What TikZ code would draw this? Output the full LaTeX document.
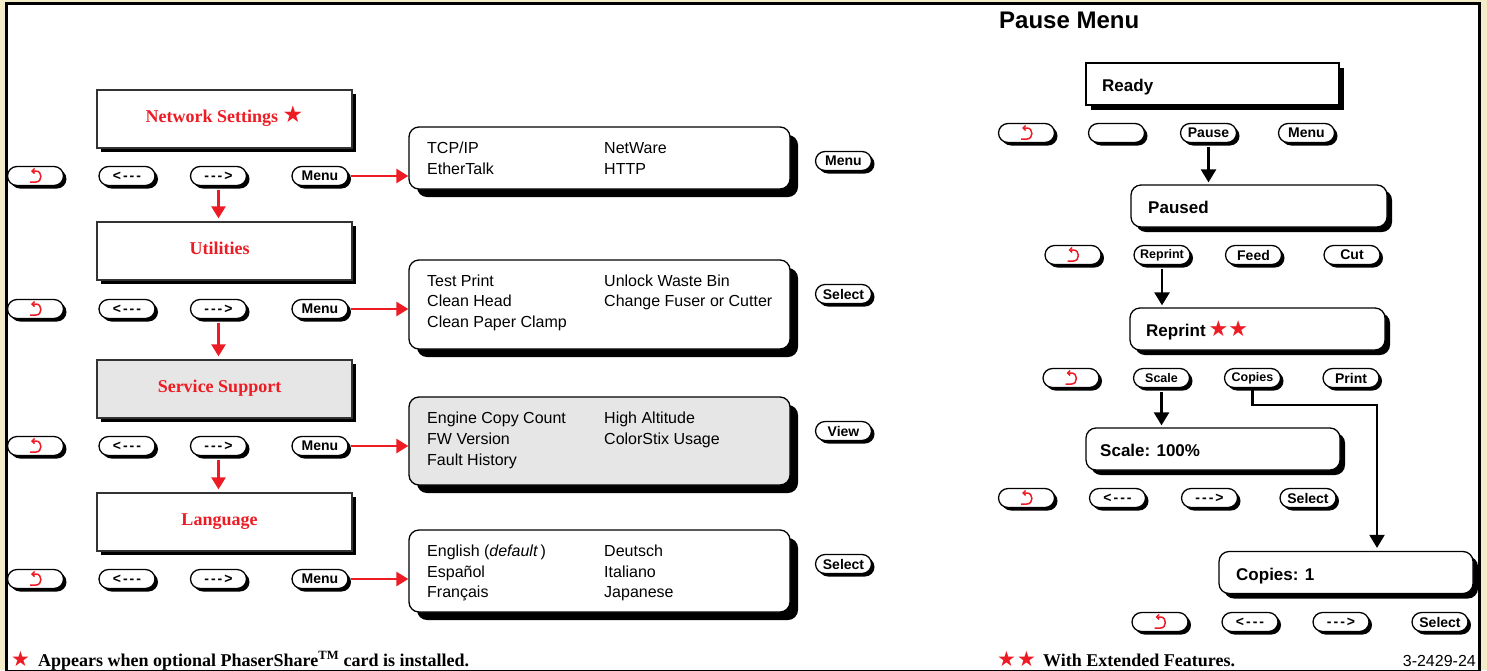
\documentclass[tikz,border=0pt]{standalone}
\usepackage{fontspec}
\setmainfont{Liberation Serif}
\setsansfont{Liberation Sans}
\newfontfamily\symf{DejaVu Sans}
\usetikzlibrary{shapes.misc,shadows,arrows.meta}
\definecolor{myred}{RGB}{237,28,36}
\definecolor{frameb}{RGB}{242,236,200}
\definecolor{boxgray}{RGB}{230,230,230}
\newcommand\redstar[1]{{\symf\color{myred}\fontsize{#1}{#1}\selectfont ★}}
\begin{document}
\begin{tikzpicture}[x=1pt,y=-1pt,
  btn/.style={rounded rectangle, draw=black, line width=1.3pt, fill=white,
    minimum width=56pt, minimum height=19pt, inner sep=0pt,
    font=\sffamily\bfseries\fontsize{14}{14}\selectfont,
    drop shadow={shadow xshift=3pt,shadow yshift=-3pt,opacity=1,fill=black}},
  smallbtn/.style={btn, font=\sffamily\bfseries\fontsize{12.5}{12.5}\selectfont},
  titlebox/.style={rectangle, draw=black!80, line width=1.3pt, fill=white,
    minimum width=255pt, minimum height=58pt, inner sep=0pt,
    text height=12pt, text depth=6pt,
    font=\rmfamily\bfseries\fontsize{18}{18}\selectfont, text=myred,
    drop shadow={shadow xshift=4pt,shadow yshift=-4pt,opacity=1,fill=black}},
  listbox/.style={rectangle, rounded corners=10pt, draw=black, line width=1.3pt, fill=white,
    minimum width=381pt, inner sep=0pt,
    drop shadow={shadow xshift=8pt,shadow yshift=-8pt,opacity=1,fill=black}},
  statbox/.style={rectangle, draw=black, line width=1.3pt, fill=white,
    minimum width=254pt, minimum height=42pt, inner sep=0pt,
    drop shadow={shadow xshift=5pt,shadow yshift=-5pt,opacity=1,fill=black}},
  rstatbox/.style={statbox, rounded corners=10pt},
  ltxt/.style={anchor=base west, inner sep=0pt, font=\sffamily\fontsize{16}{16}\selectfont},
  stxt/.style={anchor=base west, inner sep=0pt, font=\sffamily\bfseries\fontsize{17}{17}\selectfont},
  ftxt/.style={anchor=base west, inner sep=0pt, font=\rmfamily\bfseries\fontsize{18}{18}\selectfont},
  redarr/.style={draw=myred, line width=2.5pt, -{Triangle[length=12pt,width=14pt]}},
  blkarr/.style={draw=black, line width=2.5pt, -{Triangle[length=13pt,width=15pt]}},
  backsym/.pic={\draw[myred, line width=1.5pt, {Straight Barb[length=2.5pt,width=5pt]}-]
      (-4.5,-5) -- (0.5,-5) .. controls (7,-5) and (7,6) .. (0.5,6) -- (-5.5,6);}
]
\useasboundingbox (0,0) rectangle (1487,670);
\fill[frameb] (0,0) rectangle (1487,670);
\draw[line width=3pt, fill=white] (6.5,3.5) rectangle (1479,671.5);

% ---------------- left column ----------------
% row 1
\node[titlebox] (t1) at (224.5,119) {Network Settings \redstar{23}};
\node[btn] (b1a) at (35.5,176) {};
\pic at (b1a.center) {backsym};
\node[btn] (b1b) at (127,176) {<\kern2pt-\kern2pt-\kern2pt-};
\node[btn] (b1c) at (218.5,176) {-\kern2pt-\kern2pt-\kern2pt>};
\node[btn] (b1d) at (320,176) {Menu};
\node[listbox, minimum height=62pt] (l1) at (599.5,158) {};
\node[ltxt] (l1a) at (427,153) {TCP/IP};
\node[ltxt] (l1b) at (604,153) {NetWare};
\node[ltxt] (l1c) at (427,174) {EtherTalk};
\node[ltxt] (l1d) at (604,174) {HTTP};
\node[btn] (s1) at (843.5,161) {Menu};

% row 2
\node[titlebox] (t2) at (224.5,251) {Utilities\kern10pt};
\node[btn] (b2a) at (35.5,309) {};
\pic at (b2a.center) {backsym};
\node[btn] (b2b) at (127,309) {<\kern2pt-\kern2pt-\kern2pt-};
\node[btn] (b2c) at (218.5,309) {-\kern2pt-\kern2pt-\kern2pt>};
\node[btn] (b2d) at (320,309) {Menu};
\node[listbox, minimum height=89pt] (l2) at (599.5,304.5) {};
\node[ltxt] (l2a) at (427,286) {Test Print};
\node[ltxt] (l2b) at (604,286) {Unlock Waste Bin};
\node[ltxt] (l2c) at (427,306) {Clean Head};
\node[ltxt] (l2d) at (604,306) {Change Fuser or Cutter};
\node[ltxt] (l2e) at (427,327) {Clean Paper Clamp};
\node[btn] (s2) at (843.5,294) {Select};

% row 3
\node[titlebox, fill=boxgray] (t3) at (224.5,389) {Service Support\kern10pt};
\node[btn] (b3a) at (35.5,446) {};
\pic at (b3a.center) {backsym};
\node[btn] (b3b) at (127,446) {<\kern2pt-\kern2pt-\kern2pt-};
\node[btn] (b3c) at (218.5,446) {-\kern2pt-\kern2pt-\kern2pt>};
\node[btn] (b3d) at (320,446) {Menu};
\node[listbox, fill=boxgray, minimum height=88pt] (l3) at (599.5,441) {};
\node[ltxt] (l3a) at (427,423) {Engine Copy Count};
\node[ltxt] (l3b) at (604,423) {High Altitude};
\node[ltxt] (l3c) at (427,444) {FW Version};
\node[ltxt] (l3d) at (604,444) {ColorStix Usage};
\node[ltxt] (l3e) at (427,465) {Fault History};
\node[btn] (s3) at (843.5,431) {View};

% row 4
\node[titlebox] (t4) at (224.5,522) {Language\kern10pt};
\node[btn] (b4a) at (35.5,579) {};
\pic at (b4a.center) {backsym};
\node[btn] (b4b) at (127,579) {<\kern2pt-\kern2pt-\kern2pt-};
\node[btn] (b4c) at (218.5,579) {-\kern2pt-\kern2pt-\kern2pt>};
\node[btn] (b4d) at (320,579) {Menu};
\node[listbox, minimum height=82pt] (l4) at (599.5,571) {};
\node[ltxt] (l4a) at (427,556) {English (\textit{default}\,)};
\node[ltxt] (l4b) at (604,556) {Deutsch};
\node[ltxt] (l4c) at (427,577) {Español};
\node[ltxt] (l4d) at (604,577) {Italiano};
\node[ltxt] (l4e) at (427,597) {Français};
\node[ltxt] (l4f) at (604,597) {Japanese};
\node[btn] (s4) at (843.5,564) {Select};

% red arrows
\draw[redarr, shorten <=2pt] (b1d.east) -- (l1.west |- b1d.east);
\draw[redarr, shorten <=2pt] (b2d.east) -- (l2.west |- b2d.east);
\draw[redarr, shorten <=2pt] (b3d.east) -- (l3.west |- b3d.east);
\draw[redarr, shorten <=2pt] (b4d.east) -- (l4.west |- b4d.east);
\draw[redarr, shorten <=4pt, shorten >=3pt] (b1c.south) -- (t2.north -| b1c.south);
\draw[redarr, shorten <=4pt, shorten >=3pt] (b2c.south) -- (t3.north -| b2c.south);
\draw[redarr, shorten <=4pt, shorten >=3pt] (b3c.south) -- (t4.north -| b3c.south);

% ---------------- right column ----------------
\node[anchor=base west, inner sep=0pt, font=\sffamily\bfseries\fontsize{24}{24}\selectfont] (pm) at (999,28) {Pause Menu};

\node[statbox, minimum width=253pt] (ready) at (1212.5,84) {};
\node[stxt] (readyt) at (1102,91) {Ready};
\node[btn] (r1a) at (1026.5,133) {};
\pic at (r1a.center) {backsym};
\node[btn] (r1b) at (1116.5,133) {};
\node[btn] (r1c) at (1208.5,133) {Pause};
\node[btn] (r1d) at (1306.5,133) {Menu};

\node[rstatbox, minimum width=256pt] (paused) at (1259,206) {};
\node[stxt] (pausedt) at (1148,213) {Paused};
\node[btn] (r2a) at (1073,255) {};
\pic at (r2a.center) {backsym};
\node[smallbtn] (r2b) at (1162,255) {Reprint};
\node[btn] (r2c) at (1253.5,255) {Feed};
\node[btn] (r2d) at (1352,255) {Cut};

\node[rstatbox, minimum width=255pt] (reprint) at (1257.5,329) {};
\node[stxt] (reprintt) at (1146,336) {Reprint\,\redstar{22}\redstar{22}};
\node[btn] (r3a) at (1071,378) {};
\pic at (r3a.center) {backsym};
\node[smallbtn] (r3b) at (1161.5,378) {Scale};
\node[smallbtn] (r3c) at (1252.5,378) {Copies};
\node[btn] (r3d) at (1351,378) {Print};

\node[rstatbox] (scale) at (1213,449) {};
\node[stxt] (scalet) at (1100,456) {Scale: 100\%};
\node[btn] (r4a) at (1026.5,498) {};
\pic at (r4a.center) {backsym};
\node[btn] (r4b) at (1117.5,498) {<\kern2pt-\kern2pt-\kern2pt-};
\node[btn] (r4c) at (1209.5,498) {-\kern2pt-\kern2pt-\kern2pt>};
\node[btn] (r4d) at (1308,498) {Select};

\node[rstatbox] (copies) at (1346,572.5) {};
\node[stxt] (copiest) at (1236,580) {Copies: 1};
\node[btn] (r5a) at (1160,622) {};
\pic at (r5a.center) {backsym};
\node[btn] (r5b) at (1250,622) {<\kern2pt-\kern2pt-\kern2pt-};
\node[btn] (r5c) at (1341,622) {-\kern2pt-\kern2pt-\kern2pt>};
\node[btn] (r5d) at (1440,622) {Select};

% black arrows
\draw[blkarr, shorten <=4pt, shorten >=2pt] (r1c.south) -- (paused.north -| r1c.south);
\draw[blkarr, shorten <=4pt, shorten >=2pt] (r2b.south) -- (reprint.north -| r2b.south);
\draw[blkarr, shorten <=4pt, shorten >=2pt] (r3b.south) -- (scale.north -| r3b.south);
\coordinate (cpbend) at (1377,405);
\draw[blkarr, line width=2.2pt, shorten >=3pt] (r3c.south) |- (cpbend) -- (copies.north -| cpbend);

% ---------------- footers ----------------
\node[anchor=base west, inner sep=0pt] (fs1) at (11,666) {\redstar{21}};
\node[ftxt] (ft1) at (38,666) {Appears when optional PhaserShare\textsuperscript{TM} card is installed.};
\node[anchor=base west, inner sep=0pt] (fs2) at (997,666) {\redstar{21}\kern1pt\redstar{21}};
\node[ftxt] (ft2) at (1043,666) {With Extended Features.};
\node[anchor=base east, inner sep=0pt, font=\sffamily\fontsize{16}{16}\selectfont] (fnum) at (1476,666) {3-2429-24};
\end{tikzpicture}
\end{document}
